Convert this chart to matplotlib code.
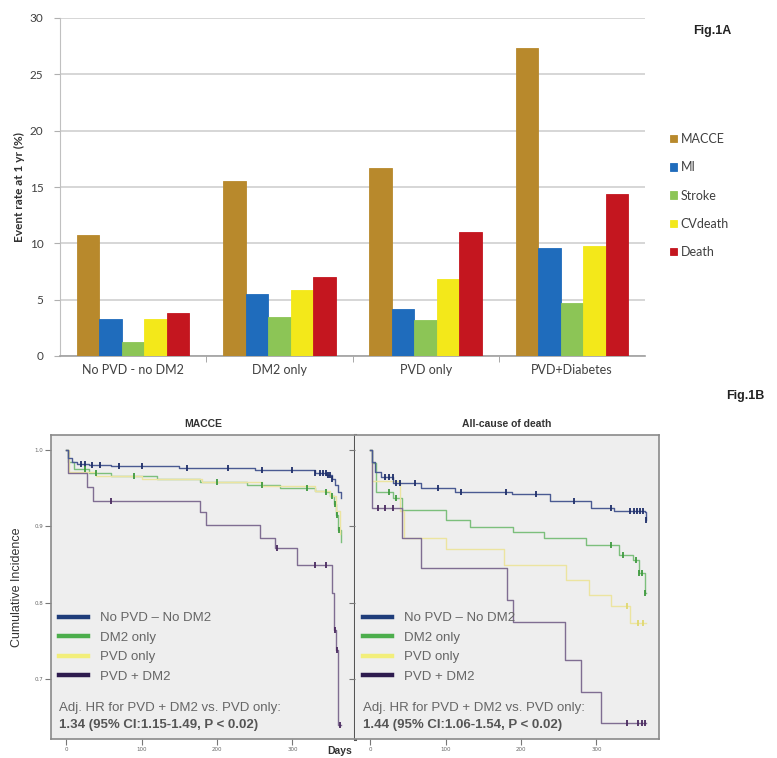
import matplotlib
matplotlib.use("Agg")
import matplotlib.pyplot as plt
from matplotlib.lines import Line2D
import numpy as np

# ---------------- data: Fig.1A bar chart ----------------
categories = ["No PVD - no DM2", "DM2 only", "PVD only", "PVD+Diabetes"]
series_names = ["MACCE", "MI", "Stroke", "CVdeath", "Death"]
macce = [10.7, 15.5, 16.7, 27.3]
mi = [3.3, 5.5, 4.2, 9.6]
stroke = [1.2, 3.5, 3.2, 4.7]
cvdeath = [3.3, 5.9, 6.8, 9.8]
death = [3.8, 7.0, 11.0, 14.4]
bar_yticks = [0, 5, 10, 15, 20, 25, 30]

# ---------------- data: Fig.1B Kaplan-Meier style curves ----------------
group_labels = ["No PVD \u2013 No DM2", "DM2 only", "PVD only", "PVD + DM2"]

# MACCE panel
m_blue_x = [0, 3, 8, 15, 30, 60, 150, 250, 330, 345, 352, 356, 360, 364]
m_blue_y = [1.0, 0.99, 0.985, 0.982, 0.980, 0.979, 0.977, 0.974, 0.970, 0.967, 0.962, 0.955, 0.945, 0.937]
m_green_x = [0, 3, 10, 30, 60, 120, 178, 240, 284, 330, 343, 350, 355, 358, 361, 364]
m_green_y = [1.0, 0.985, 0.975, 0.970, 0.966, 0.962, 0.958, 0.954, 0.950, 0.947, 0.945, 0.940, 0.930, 0.915, 0.895, 0.880]
m_yellow_x = [0, 4, 40, 100, 180, 260, 330, 350, 358, 363]
m_yellow_y = [1.0, 0.972, 0.966, 0.962, 0.958, 0.953, 0.947, 0.940, 0.920, 0.890]
m_purple_x = [0, 3, 28, 36, 177, 186, 257, 277, 306, 352, 355, 358, 361, 364]
m_purple_y = [1.0, 0.970, 0.952, 0.934, 0.919, 0.902, 0.885, 0.872, 0.849, 0.812, 0.764, 0.738, 0.640, 0.640]

# All-cause death panel
d_blue_x = [0, 2, 6, 14, 31, 67, 112, 188, 239, 293, 324, 364, 366]
d_blue_y = [1.0, 0.985, 0.972, 0.965, 0.957, 0.950, 0.945, 0.943, 0.934, 0.924, 0.920, 0.919, 0.908]
d_green_x = [0, 3, 8, 31, 42, 101, 132, 190, 230, 286, 330, 349, 356, 364, 366]
d_green_y = [1.0, 0.983, 0.945, 0.937, 0.921, 0.908, 0.899, 0.893, 0.885, 0.875, 0.862, 0.856, 0.839, 0.812, 0.812]
d_yellow_x = [0, 3, 40, 45, 100, 178, 260, 290, 320, 345, 366]
d_yellow_y = [1.0, 0.960, 0.920, 0.885, 0.870, 0.850, 0.830, 0.810, 0.795, 0.773, 0.773]
d_purple_x = [0, 2, 42, 67, 182, 190, 259, 279, 306, 366]
d_purple_y = [1.0, 0.924, 0.885, 0.845, 0.803, 0.775, 0.725, 0.683, 0.642, 0.642]

# censoring tick positions (days)
m_blue_cens = [20, 25, 35, 45, 70, 100, 160, 215, 260, 300, 330, 336, 340, 344, 347, 350, 353]
m_green_cens = [25, 40, 90, 200, 260, 320, 345, 352, 356, 359, 362]
m_purple_cens = [60, 280, 330, 345, 356, 359, 363]
d_blue_cens = [20, 25, 30, 35, 40, 60, 90, 120, 180, 220, 270, 320, 345, 350, 354, 358, 362, 366]
d_green_cens = [25, 35, 320, 335, 352, 356, 360, 364]
d_yellow_cens = [340, 355, 362]
d_purple_cens = [10, 20, 30, 340, 355, 360, 364]

hr_lines_macce = ["Adj. HR for PVD + DM2 vs. PVD only:", "1.34 (95% CI:1.15-1.49, P < 0.02)"]
hr_lines_death = ["Adj. HR for PVD + DM2 vs. PVD only:", "1.44 (95% CI:1.06-1.54, P < 0.02)"]
km_xticks = [0, 100, 200, 300]
km_yticks = [0.7, 0.8, 0.9, 1.0]

# ---------------- figure ----------------
W, H = 777, 758
fig = plt.figure(figsize=(W / 100, H / 100), dpi=100)
fig.patch.set_facecolor("white")


def ax_px(x0, y0, x1, y1):
    return fig.add_axes([x0 / W, 1 - y1 / H, (x1 - x0) / W, (y1 - y0) / H])


FONT_TOP = ["Lato", "DejaVu Sans"]
FONT_B = ["Liberation Sans", "DejaVu Sans"]

# ---- Fig 1A ----
bar_colors = ["#b8892c", "#1f6cbc", "#8cc556", "#f3e81a", "#c4161f"]
ax1 = ax_px(60, 18, 645, 356)
x = np.arange(len(categories))
bw = 0.154
for i, (vals, col, name) in enumerate(zip([macce, mi, stroke, cvdeath, death], bar_colors, series_names)):
    ax1.bar(x + (i - 2) * bw, vals, width=bw, color=col, edgecolor=col, linewidth=0.6,
            label=name, zorder=3)
ax1.set_xlim(-0.5, 3.5)
ax1.set_ylim(0, 30)
ax1.set_yticks(bar_yticks)
ax1.set_yticklabels([str(v) for v in bar_yticks], fontsize=8.5, color="#404040", family=FONT_TOP)
ax1.yaxis.grid(True, color="#cfcfcf", linewidth=1.2, zorder=0)
ax1.set_axisbelow(True)
ax1.set_xticks(x)
ax1.set_xticklabels(categories, fontsize=9, color="#404040", family=FONT_TOP)
ax1.set_xticks([0.5, 1.5, 2.5], minor=True)
ax1.tick_params(axis="x", which="major", length=0, pad=6)
ax1.tick_params(axis="x", which="minor", length=4, color="#9a9a9a")
ax1.tick_params(axis="y", length=4, color="#b0b0b0", pad=8)
for s in ["top", "right"]:
    ax1.spines[s].set_visible(False)
ax1.spines["left"].set_color("#c0c0c0")
ax1.spines["bottom"].set_color("#a0a0a0")
ax1.spines["bottom"].set_linewidth(1.2)
ax1.set_ylabel("Event rate at 1 yr (%)", fontsize=8.5, fontweight="bold", color="#303030",
               family=FONT_TOP, labelpad=3)
leg1 = ax1.legend(loc="upper left", bbox_to_anchor=(665 / W, 1 - 128 / H),
                  bbox_transform=fig.transFigure, frameon=False,
                  prop={"family": FONT_TOP, "size": 9}, labelspacing=1.3,
                  handlelength=0.55, handleheight=0.55, handletextpad=0.3, borderaxespad=0)
for t in leg1.get_texts():
    t.set_color("#404040")
fig.text(712 / W, 1 - 31 / H, "Fig.1A", fontsize=9, fontweight="bold", family=FONT_B,
         ha="center", va="center", color="#222222")
fig.text(745 / W, 1 - 396 / H, "Fig.1B", fontsize=9, fontweight="bold", family=FONT_B,
         ha="center", va="center", color="#222222")

# ---- Fig 1B ----
line_cols = ["#4a5a92", "#7cbf7c", "#ece4a0", "#7f6d92"]
cens_cols = ["#1f2f6a", "#3f9a3f", "#e0d870", "#4a2a60"]
leg_cols = ["#1f3d7a", "#4cae4c", "#f2ee7a", "#2d1b4e"]


def step_val(xs, ys, t):
    idx = np.searchsorted(np.asarray(xs), t, side="right") - 1
    return np.asarray(ys)[np.clip(idx, 0, len(ys) - 1)]


def km_panel(ax, curves, cens, title, hr_lines, show_ylabels):
    ax.set_facecolor("#eeeeee")
    for k, (xs, ys) in enumerate(curves):
        ax.step(xs, ys, where="post", color=line_cols[k], linewidth=1.0, zorder=3 + (k == 0))
    for k, cx in cens.items():
        xs, ys = curves[k]
        cy = step_val(xs, ys, np.asarray(cx))
        ax.plot(cx, cy, linestyle="none", marker="|", markersize=4, markeredgewidth=1.3,
                color=cens_cols[k], zorder=5)
    ax.set_xlim(-20, 383)
    ax.set_ylim(0.621, 1.02)
    ax.set_xticks(km_xticks)
    ax.set_xticklabels([str(v) for v in km_xticks], fontsize=4, color="#666666")
    ax.set_yticks(km_yticks)
    if show_ylabels:
        ax.set_yticklabels(["%.1f" % v for v in km_yticks], fontsize=4, color="#666666")
    else:
        ax.set_yticklabels([])
    ax.tick_params(length=4, width=0.8, color="#777777", pad=1.5)
    for s in ax.spines.values():
        s.set_color("#8a8a8a")
        s.set_linewidth(1.2)
    ax.set_title(title, fontsize=7.5, fontweight="bold", family=FONT_B, color="#333333", pad=6)
    handles = [Line2D([], [], color=c, linewidth=3.2) for c in leg_cols]
    leg = ax.legend(handles, group_labels, loc="upper left", bbox_to_anchor=(0.01, 0.435),
                    frameon=False, prop={"family": FONT_B, "size": 9.5}, labelspacing=0.55,
                    handlelength=2.2, handletextpad=0.9, borderaxespad=0)
    for t in leg.get_texts():
        t.set_color("#666666")
    ax.text(0.025, 0.103, hr_lines[0], transform=ax.transAxes, fontsize=9.5, family=FONT_B,
            color="#666666", va="center", ha="left")
    ax.text(0.025, 0.045, hr_lines[1], transform=ax.transAxes, fontsize=9.5, family=FONT_B,
            fontweight="bold", color="#555555", va="center", ha="left")


ax2 = ax_px(51, 435, 355, 739)
ax3 = ax_px(355, 435, 659, 739)
km_panel(ax2, [(m_blue_x, m_blue_y), (m_green_x, m_green_y), (m_yellow_x, m_yellow_y),
               (m_purple_x, m_purple_y)],
         {0: m_blue_cens, 1: m_green_cens, 3: m_purple_cens}, "MACCE", hr_lines_macce, True)
km_panel(ax3, [(d_blue_x, d_blue_y), (d_green_x, d_green_y), (d_yellow_x, d_yellow_y),
               (d_purple_x, d_purple_y)],
         {0: d_blue_cens, 1: d_green_cens, 2: d_yellow_cens, 3: d_purple_cens},
         "All-cause of death", hr_lines_death, False)
ax2.spines["right"].set_color("#555555")
ax2.spines["right"].set_linewidth(2.2)
ax3.spines["left"].set_visible(False)
ax2.set_ylabel("Cumulative Incidence", fontsize=9, family=FONT_B, color="#333333", labelpad=8)
fig.text(340 / W, 1 - 751 / H, "Days", fontsize=7.5, fontweight="bold", family=FONT_B,
         ha="center", va="center", color="#333333")

fig.savefig("out.png", dpi=100, facecolor="white")
